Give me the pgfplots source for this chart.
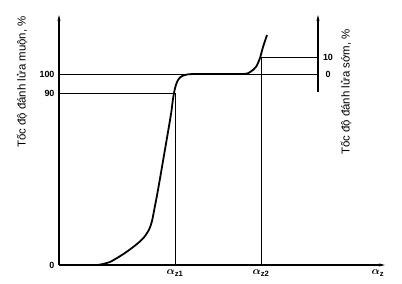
\documentclass[border=0pt]{standalone}
\usepackage{amsmath}
\usepackage{pgfplots}
\pgfplotsset{compat=1.18}
\usepackage{fontspec}
\setmainfont{Liberation Sans}
\usetikzlibrary{arrows.meta}
\begin{document}
\begin{tikzpicture}
\useasboundingbox (-59bp,-19bp) rectangle (343bp,265bp);
\begin{axis}[
  anchor=origin, at={(0,0)},
  x=1bp, y=1.91bp,
  xmin=0, xmax=326, ymin=0, ymax=130.9,
  axis lines=left,
  axis line style={line width=1.1pt, -{Stealth[length=6pt,width=3pt]}},
  xtick={116,202,319},
  xticklabels={$\boldsymbol{\alpha}_{\mathbf{z1}}$,$\boldsymbol{\alpha}_{\mathbf{z2}}$,$\boldsymbol{\alpha}_{\mathbf{z}}$},
  ytick={0,90,100},
  major tick length=0pt,
  yticklabel style={font=\fontsize{9}{10}\selectfont\bfseries, xshift=-1pt},
  xticklabel style={font=\fontsize{11}{12}\selectfont, yshift=-1pt},
  /pgf/number format/assume math mode=true,
  clip=false,
]
% curve
\addplot[black, line width=1.8pt, smooth, tension=0.45] coordinates {
(39,0) (51,1.6) (66,6.3) (78,11) (85,14.5) (90,18.5) (93,23) (96,31)
(99,39.3) (106,60.5) (112,79) (114,87) (116,92.5) (118,95.8) (121,98.2) (126,99.5) (136,100)
(183,100) (191,101) (197,103.7) (201,108.4) (204,114.1) (208,120.4)
};
% reference lines
\addplot[black, line width=0.8pt] coordinates {(0,100) (259,100)};
\addplot[black, line width=0.8pt] coordinates {(0,90) (116,90)};
\addplot[black, line width=0.8pt] coordinates {(116,0) (116,90)};
\addplot[black, line width=0.8pt] coordinates {(202,0) (202,108.9)};
\addplot[black, line width=0.8pt] coordinates {(202,108.9) (259,108.9)};
% right axis
\addplot[black, line width=1.1pt, -{Stealth[length=6pt,width=3pt]}] coordinates {(259,90.6) (259,130.9)};
\node[font=\fontsize{9}{10}\selectfont\bfseries] at (axis cs:269,108.9) {10};
\node[font=\fontsize{9}{10}\selectfont\bfseries] at (axis cs:269,100) {0};
% labels
\node[rotate=90, font=\fontsize{11.5}{13}\selectfont] at (axis cs:-37,95.8) {Tốc độ đánh lửa muộn, \%};
\node[rotate=90, font=\fontsize{11.5}{13}\selectfont] at (axis cs:287,90.6) {Tốc độ đánh lửa sớm, \%};
\end{axis}
\end{tikzpicture}
\end{document}
